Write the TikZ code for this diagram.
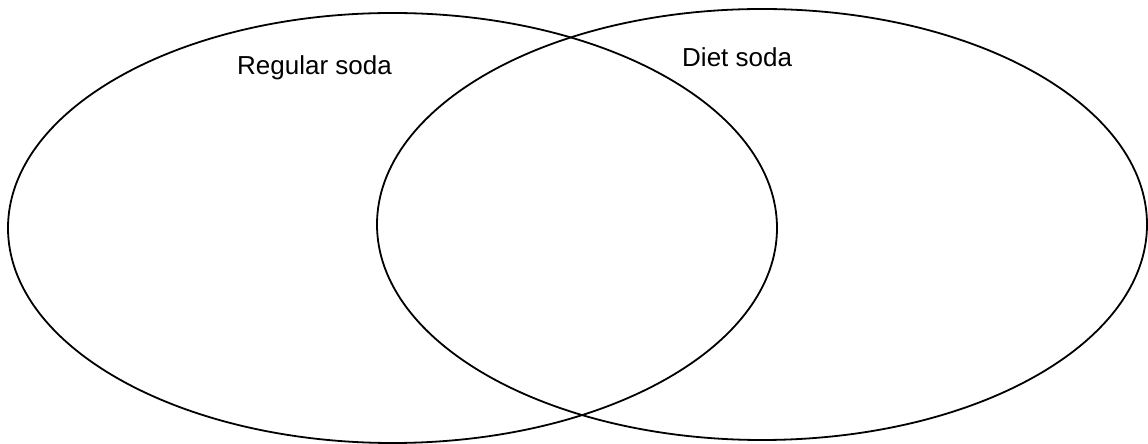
\documentclass[tikz,border=0pt]{standalone}
\usepackage{fontspec}
\setmainfont{Liberation Sans}
\begin{document}
\begin{tikzpicture}[x=1pt,y=1pt,
  setline/.style={draw=black,line width=1.8pt},
  setlabel/.style={anchor=base west,inner sep=0pt,font=\fontsize{26}{30}\selectfont}]
\useasboundingbox (0,0) rectangle (1148,444);
\fill[white] (0,0) rectangle (1148,444);
\draw[setline] (392.5,216) ellipse [x radius=384.5, y radius=215];
\draw[setline] (762,219.5) ellipse [x radius=385, y radius=215.5];
\node[setlabel] (reg) at (237,369) {Regular soda};
\node[setlabel] (diet) at (682,377) {Diet soda};
\end{tikzpicture}
\end{document}
